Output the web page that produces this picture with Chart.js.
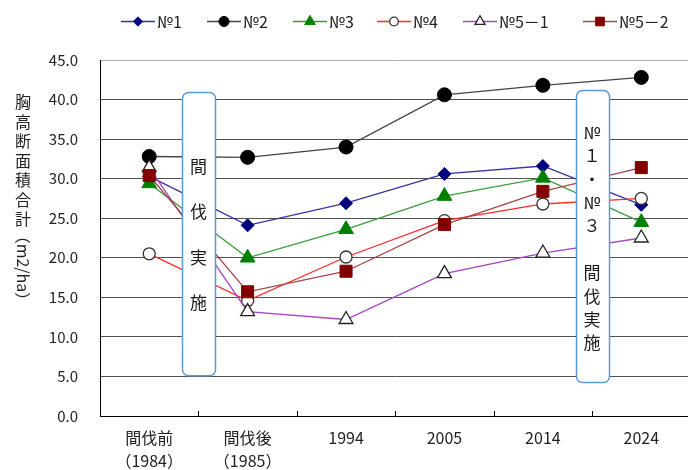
<!DOCTYPE html>
<html>
<head>
<meta charset="utf-8">
<script src="https://cdn.jsdelivr.net/npm/chart.js@4.4.1/dist/chart.umd.min.js"></script>
<style>
  html, body { margin: 0; padding: 0; background: #fff; overflow: hidden; }
  #wrap { position: relative; width: 700px; height: 470px; }
</style>
</head>
<body>
<div id="wrap"><canvas id="chart" width="700" height="470"></canvas></div>
<script>
// Survey periods (x categories)
const categories = [["間伐前", "（1984）"], ["間伐後", "（1985）"], "1994", "2005", "2014", "2024"];

// Plot names
const seriesNames = ["№1", "№2", "№3", "№4", "№5－1", "№5－2"];

// Basal area per plot (m2/ha)
const no1  = [30.3, 24.1, 26.9, 30.6, 31.6, 26.7];
const no2  = [32.8, 32.7, 34.0, 40.6, 41.8, 42.8];
const no3  = [29.4, 20.0, 23.6, 27.8, 30.1, 24.5];
const no4  = [20.5, 14.6, 20.1, 24.7, 26.8, 27.5];
const no51 = [31.4, 13.2, 12.2, 18.0, 20.6, 22.5];
const no52 = [30.4, 15.7, 18.3, 24.2, 28.4, 31.4];

// Y axis range
const yMin = 0, yMax = 45, yStep = 5;

const FONT = "'Noto Sans CJK JP', 'Noto Sans', sans-serif";

const styles = [
  { line: "#34349e", fill: "#000080", stroke: "#000080", shape: "rectRot",  r: 6.5, bw: 1 },
  { line: "#444444", fill: "#000000", stroke: "#000000", shape: "circle",   r: 7,   bw: 1 },
  { line: "#3c9c3c", fill: "#008000", stroke: "#008000", shape: "triangle", r: 8.5, bw: 1 },
  { line: "#ff2a2a", fill: "#ffffff", stroke: "#333333", shape: "circle",   r: 6,   bw: 1.3 },
  { line: "#a545c5", fill: "#ffffff", stroke: "#222222", shape: "triangle", r: 8,   bw: 1.3 },
  { line: "#a54545", fill: "#800000", stroke: "#800000", shape: "rect",     r: 8.5, bw: 1 }
];

const values = [no1, no2, no3, no4, no51, no52];

const datasets = values.map((d, i) => ({
  label: seriesNames[i],
  data: d,
  borderColor: styles[i].line,
  backgroundColor: styles[i].fill,
  borderWidth: 1.3,
  tension: 0,
  pointStyle: styles[i].shape,
  pointRadius: styles[i].r,
  pointHoverRadius: styles[i].r,
  pointBackgroundColor: styles[i].fill,
  pointBorderColor: styles[i].stroke,
  pointBorderWidth: styles[i].bw,
  order: values.length - i   // later plots drawn on top
}));

// Vertical y-axis title: upright kanji, rotated unit
const yTitlePlugin = {
  id: "yTitle",
  afterDraw(chart) {
    const ctx = chart.ctx;
    ctx.save();
    ctx.fillStyle = "#222";
    ctx.font = "16px " + FONT;
    ctx.textAlign = "center";
    ctx.textBaseline = "middle";
    const chars = "胸高断面積合計".split("");
    const x = 23;
    chars.forEach((c, i) => ctx.fillText(c, x, 102 + i * 19.5));
    ctx.translate(x, 268);
    ctx.rotate(Math.PI / 2);
    ctx.fillText("（m2/ha）", 0, 0);
    ctx.restore();
  }
};

// Small inward tick marks on the category axis
const xTickPlugin = {
  id: "xInnerTicks",
  afterDraw(chart) {
    const xs = chart.scales.x, area = chart.chartArea, ctx = chart.ctx;
    ctx.save();
    ctx.strokeStyle = "#000";
    ctx.lineWidth = 1;
    for (let i = 1; i < categories.length; i++) {
      const px = Math.round((xs.getPixelForValue(i - 1) + xs.getPixelForValue(i)) / 2) + 0.5;
      ctx.beginPath();
      ctx.moveTo(px, area.bottom);
      ctx.lineTo(px, area.bottom - 5);
      ctx.stroke();
    }
    ctx.restore();
  }
};

// Callout boxes marking the thinning events
const notes = [
  { between: [0, 1], top: 41.0, bottom: 5.2, lines: ["間", "", "伐", "", "実", "", "施"], first: 74.5, step: 22.8 },
  { between: [4, 5], top: 41.2, bottom: 4.3, lines: ["№", "１", "・", "№", "３", "", "間", "伐", "実", "施"], first: 42.3, step: 23.4 }
];

const notePlugin = {
  id: "notes",
  afterDatasetsDraw(chart) {
    const xs = chart.scales.x, ys = chart.scales.y, ctx = chart.ctx;
    ctx.save();
    notes.forEach(n => {
      const cx = (xs.getPixelForValue(n.between[0]) + xs.getPixelForValue(n.between[1])) / 2;
      const w = 33;
      const top = ys.getPixelForValue(n.top);
      const bottom = ys.getPixelForValue(n.bottom);
      const left = Math.round(cx - w / 2) + 0.5;
      ctx.beginPath();
      ctx.roundRect(left, Math.round(top) + 0.5, w, bottom - top, 6);
      ctx.fillStyle = "#ffffff";
      ctx.fill();
      ctx.strokeStyle = "#5b9bd5";
      ctx.lineWidth = 1.5;
      ctx.stroke();
      ctx.fillStyle = "#1a1a1a";
      ctx.font = "17px " + FONT;
      ctx.textAlign = "center";
      ctx.textBaseline = "middle";
      n.lines.forEach((t, i) => {
        if (t) ctx.fillText(t, cx, top + n.first + i * n.step);
      });
    });
    ctx.restore();
  }
};

// Legend row: line with marker followed by plot name
const legendStarts = [121, 207, 293, 377, 463, 583];
const legendPlugin = {
  id: "lineLegend",
  afterDraw(chart) {
    const ctx = chart.ctx;
    ctx.save();
    ctx.font = "16px " + FONT;
    ctx.textBaseline = "middle";
    ctx.textAlign = "left";
    const y = 21;
    chart.data.datasets.forEach((ds, i) => {
      const st = styles[i];
      const x = legendStarts[i];
      ctx.strokeStyle = ds.borderColor;
      ctx.lineWidth = 1.3;
      ctx.beginPath();
      ctx.moveTo(x, y + 0.5);
      ctx.lineTo(x + 34, y + 0.5);
      ctx.stroke();
      ctx.fillStyle = st.fill;
      ctx.strokeStyle = st.stroke;
      ctx.lineWidth = st.bw;
      Chart.helpers.drawPoint(ctx, { pointStyle: st.shape, radius: st.r * 0.72, rotation: 0, borderWidth: st.bw }, x + 17, y + 0.5);
      ctx.fillStyle = "#222";
      ctx.fillText(ds.label, x + 36, y + 1);
    });
    ctx.restore();
  }
};

new Chart(document.getElementById("chart"), {
  type: "line",
  data: { labels: categories, datasets },
  plugins: [yTitlePlugin, xTickPlugin, notePlugin, legendPlugin],
  options: {
    responsive: false,
    animation: false,
    devicePixelRatio: 1,
    layout: { padding: { top: 60, right: 5, left: 0, bottom: 0 } },
    plugins: { legend: { display: false }, tooltip: { enabled: false } },
    scales: {
      x: {
        offset: true,
        grid: { display: false, drawTicks: false },
        border: { display: true, color: "#000", width: 1 },
        ticks: {
          color: "#222",
          font: { family: FONT, size: 16, lineHeight: 1.4 },
          padding: 11,
          maxRotation: 0,
          autoSkip: false
        },
        afterFit(s) { s.height = 54; }
      },
      y: {
        min: yMin,
        max: yMax,
        ticks: {
          stepSize: yStep,
          color: "#222",
          font: { family: FONT, size: 15 },
          padding: 22,
          callback: v => v.toFixed(1)
        },
        grid: {
          drawTicks: false,
          color: ctx => (ctx.tick && ctx.tick.value === yMax) ? "#b0b0b0" : "#505050",
          lineWidth: 1
        },
        border: { display: true, color: "#000", width: 1 },
        afterFit(s) { s.width = 100; }
      }
    }
  }
});
</script>
</body>
</html>
